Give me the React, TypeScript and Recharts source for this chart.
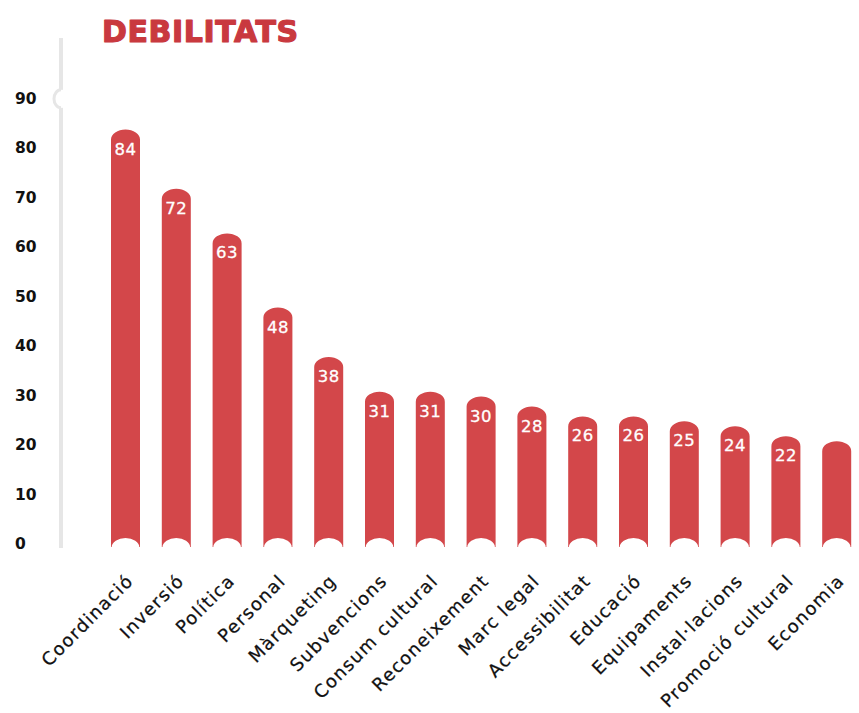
import React from 'react';
import { BarChart, Bar, XAxis, YAxis, LabelList } from 'recharts';

const categories = ['Coordinació', 'Inversió', 'Política', 'Personal', 'Màrqueting', 'Subvencions', 'Consum cultural', 'Reconeixement', 'Marc legal', 'Accessibilitat', 'Educació', 'Equipaments', 'Instal·lacions', 'Promoció cultural', 'Economia'];
const values = [84, 72, 63, 48, 38, 31, 31, 30, 28, 26, 26, 25, 24, 22, 21];
const valueLabels = ['84', '72', '63', '48', '38', '31', '31', '30', '28', '26', '26', '25', '24', '22', ''];
const yTicks = [0, 10, 20, 30, 40, 50, 60, 70, 80, 90];
const title = 'DEBILITATS';

const data = categories.map((c, i) => ({ name: c, value: values[i], label: valueLabels[i] }));

const BAR_COLOR = '#d3474a';
const TITLE_COLOR = '#c9393f';
const AXIS_COLOR = '#e6e6e6';

const BarShape = (props: any) => {
  const { x, y, width, height } = props;
  const top = y;
  const bottom = y + height + 2;
  const ryT = 10;
  const ryB = 9;
  const inset = 0.7;
  const rxB = width / 2 - inset;
  const d = `M ${x} ${bottom} L ${x} ${top + ryT} A ${width / 2} ${ryT} 0 0 1 ${x + width} ${top + ryT} L ${x + width} ${bottom} L ${x + width - inset} ${bottom} A ${rxB} ${ryB} 0 0 0 ${x + inset} ${bottom} Z`;
  return <path d={d} fill={BAR_COLOR} />;
};

const YTick = (props: any) => {
  const { y, payload } = props;
  const v = payload.value;
  return (
    <g>
      {v === 90 && (
        <g>
          <rect x={58} y={y - 10} width={7} height={18} fill="#fff" />
          <path d={`M 61 ${y - 10} A 7 9 0 0 0 61 ${y + 8}`} stroke={AXIS_COLOR} strokeWidth={3} fill="none" />
        </g>
      )}
      {v === 0 && <rect x={59} y={y} width={4} height={3} fill={AXIS_COLOR} />}
      <text x={15} y={y + 4} textAnchor="start" fontFamily="DejaVu Sans" fontWeight="bold" fontSize={15.5} fill="#111">
        {v}
      </text>
    </g>
  );
};

const XTick = (props: any) => {
  const { x, y, payload } = props;
  const ax = x + 9;
  const ay = y + 29;
  return (
    <text
      x={ax}
      y={ay}
      textAnchor="end"
      transform={`rotate(-45, ${ax}, ${ay})`}
      fontFamily="DejaVu Sans"
      fontSize={18}
      letterSpacing={1.3}
      fill="#111"
      stroke="#111"
      strokeWidth={0.25}
    >
      {payload.value}
    </text>
  );
};

const ValueLabel = (props: any) => {
  const { x, y, width, value } = props;
  if (!value) return null;
  return (
    <text x={x + width / 2} y={y + 25} textAnchor="middle" fontFamily="DejaVu Sans" fontSize={16.5} letterSpacing={0.5} fill="#fff" stroke="#fff" strokeWidth={0.3}>
      {value}
    </text>
  );
};

export default function App() {
  return (
    <div style={{ position: 'absolute', left: 0, top: 0, width: 859, height: 713, overflow: 'hidden', background: '#fff' }}>
      <BarChart width={862} height={713} data={data} margin={{ top: 38, right: 0, bottom: 0, left: 0 }}>
        <XAxis
          dataKey="name"
          axisLine={false}
          tickLine={false}
          interval={0}
          height={168}
          padding={{ left: 39, right: 0 }}
          tick={<XTick />}
        />
        <YAxis
          width={61}
          domain={[0, 102.5]}
          ticks={yTicks}
          axisLine={{ stroke: AXIS_COLOR, strokeWidth: 4 }}
          tickLine={false}
          tick={<YTick />}
          interval={0}
        />
        <Bar dataKey="value" barSize={29} shape={<BarShape />} isAnimationActive={false}>
          <LabelList dataKey="label" content={<ValueLabel />} />
        </Bar>
      </BarChart>
      <svg width={859} height={60} style={{ position: 'absolute', left: 0, top: 0 }}>
        <text x={102} y={42} fontFamily="DejaVu Sans" fontWeight="bold" fontSize={30} letterSpacing={0.6} fill={TITLE_COLOR} stroke={TITLE_COLOR} strokeWidth={1.2} strokeLinejoin="round">
          {title}
        </text>
      </svg>
    </div>
  );
}
